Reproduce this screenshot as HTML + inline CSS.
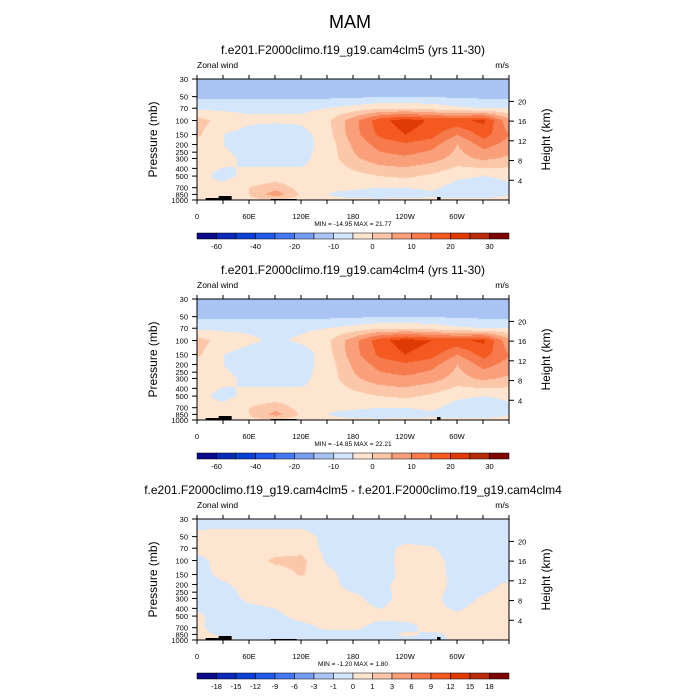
<!DOCTYPE html>
<html><head><meta charset="utf-8"><style>
body{margin:0;background:#fff;width:700px;height:700px;overflow:hidden;position:relative;font-family:"Liberation Sans",sans-serif}
canvas{position:absolute}
svg{position:absolute;left:0;top:0}
</style></head><body>
<canvas id="c0" width="312" height="121" style="left:197px;top:79px"></canvas>
<canvas id="c1" width="312" height="121" style="left:197px;top:299px"></canvas>
<canvas id="c2" width="312" height="121" style="left:197px;top:519px"></canvas>
<svg id="ov" width="700" height="700"></svg>
<script>
const lons=[0,30,60,90,120,150,180,210,240,270,300,330,360];
const pres=[30,50,70,100,150,200,300,500,700,850,1000];
const field1=[
[-13,-13,-13,-13,-13,-13,-13,-13,-13,-13,-13,-13,-13],
[-11,-11,-11,-11,-11,-11,-11,-10,-10,-10,-11,-11,-11],
[-6,-6,-6,-6,-6,-5,-3,-1,-1,-2,-4,-5,-5],
[2,-2,-4,-4,-4,-1,8,18,23,19,19,21,6],
[1,-5,-7,-9,-7,-2,8,16,20,17,10,17,10],
[-2,-5,-7,-8,-7,-3,6,12,14,12,5,12,8],
[-4,-4,-6,-7,-6,-3,4,8,9,7,3,6,4],
[-4,-6,-4,-3,-4,-4,-2,0,1,-1,-4,-5,-4],
[-4,-4,0,3,-2,-4,-4,-5,-5,-4,-7,-8,-6],
[-4,-3,0,8,-1,-5,-7,-8,-7,-6,-7,-7,-5],
[-4,-3,-1,-1,-2,-4,-4,-4,-4,-4,-4,-4,-4]];
const field2=[
[-13,-13,-13,-13,-13,-13,-13,-13,-13,-13,-13,-13,-13],
[-11,-11,-11,-11,-11,-11,-11,-10,-10,-10,-11,-11,-11],
[-6,-6,-6,-6,-6,-5,-3,-1,-1,-2,-4,-5,-5],
[2,-2,-4,-6,-4,-1,8,18,23,20,19,21,6],
[1,-5,-7,-9,-8,-2,8,16,20,17,10,17,10],
[-2,-5,-7,-8,-7,-3,6,12,14,12,5,12,8],
[-4,-4,-6,-7,-6,-3,4,8,9,7,3,6,4],
[-4,-6,-4,-3,-4,-4,-2,0,1,-1,-4,-5,-4],
[-4,-4,0,3,-2,-4,-4,-5,-5,-4,-7,-8,-6],
[-4,-3,0,7,-1,-5,-7,-8,-7,-6,-7,-7,-5],
[-4,-3,-1,-1,-2,-4,-4,-4,-4,-4,-4,-4,-4]];
const field3=[
[-0.5,-0.5,-0.5,-0.5,-0.5,-0.5,-0.5,-0.5,-0.5,-0.5,-0.5,-0.5,-0.5],
[0.3,0.4,0.4,0.4,0.4,-0.3,-0.5,-0.5,-0.5,-0.5,-0.5,-0.5,-0.5],
[0.3,0.5,0.5,0.5,0.6,-0.3,-0.5,-0.5,0.3,0.1,-0.5,-0.5,-0.5],
[-0.3,0.4,0.5,1.2,1.3,-0.2,-0.5,-0.5,0.4,0.4,-0.4,-0.5,-0.5],
[-0.3,0.2,0.4,0.5,1.1,0.3,-0.5,-0.5,0.3,0.4,-0.3,-0.5,-0.5],
[-0.4,-0.1,0.3,0.3,0.5,0.3,-0.3,-0.2,0.3,0.3,-0.2,-0.3,0.2],
[-0.5,-0.4,0.2,0.3,0.4,0.3,0.2,-0.3,0.3,0.2,-0.3,0.1,0.3],
[0.2,-0.5,-0.5,-0.2,0.3,0.3,0.3,0.2,0.3,0.1,0.1,0.3,0.4],
[0.2,-0.5,-0.5,-0.5,-0.3,0.2,0.2,-0.3,-0.3,0.3,0.3,0.3,0.3],
[0.3,-0.2,-0.5,-0.5,-0.5,-0.4,-0.3,-0.5,0.2,-0.2,0.2,0.3,0.3],
[0.3,0.3,-0.2,-0.4,-0.4,-0.3,-0.3,-0.3,-0.3,-0.3,0.2,0.3,0.3]];
const levelsMain=[-60,-50,-40,-30,-20,-15,-10,-5,0,5,10,15,20,25,30];
const labelsMain=["-60","","-40","","-20","","-10","","0","","10","","20","","30"];
const levelsDiff=[-18,-15,-12,-9,-6,-3,-1,0,1,3,6,9,12,15,18];
const labelsDiff=["-18","-15","-12","-9","-6","-3","-1","0","1","3","6","9","12","15","18"];
const colors=["#0a0a8a","#0829b5","#0c40d4","#2059ea","#4578ee","#769cf0","#a9c4f4","#d4e6fb","#fde5cf","#fcc7a8","#f9a07a","#f67a4c","#f45a20","#e03a04","#b72a08","#7f0505"];
const titles=["f.e201.F2000climo.f19_g19.cam4clm5 (yrs 11-30)","f.e201.F2000climo.f19_g19.cam4clm4 (yrs 11-30)","f.e201.F2000climo.f19_g19.cam4clm5 - f.e201.F2000climo.f19_g19.cam4clm4"];
const minmax=["MIN = -14.95  MAX =  21.77","MIN = -14.85  MAX =  22.21","MIN = -1.20  MAX =  1.80"];
const pTicks=[30,50,70,100,150,200,250,300,400,500,700,850,1000];
const kmTicks=[4,8,12,16,20];
const lonTicks=[0,60,120,180,240,300];
const lonLabels=["0","60E","120E","180","120W","60W"];

const X0=197,W=312,PH=121,tops=[79,299,519];
const lp=p=>Math.log(p/30)/Math.log(1000/30)*PH;
const xl=l=>l/360*W;
function hex(c){return [parseInt(c.slice(1,3),16),parseInt(c.slice(3,5),16),parseInt(c.slice(5,7),16)];}
const rgb=colors.map(hex);
const lyv=pres.map(lp);
function valAt(f,lon,y){
  let fx=lon/30,ix=Math.min(11,Math.floor(fx)),tx=fx-ix;
  let j=0;
  while(j<9&&lyv[j+1]<y)j++;
  let ty=(y-lyv[j])/(lyv[j+1]-lyv[j]);ty=Math.max(0,Math.min(1,ty));
  const a=f[j][ix]*(1-tx)+f[j][ix+1]*tx,b=f[j+1][ix]*(1-tx)+f[j+1][ix+1]*tx;
  return a*(1-ty)+b*ty;
}
function cls(v,lv){let k=0;while(k<lv.length&&v>=lv[k])k++;return k;}
[[field1,levelsMain],[field2,levelsMain],[field3,levelsDiff]].forEach(([f,lv],i)=>{
  const cv=document.getElementById('c'+i),ctx=cv.getContext('2d');
  const im=ctx.createImageData(W,PH);
  for(let y=0;y<PH;y++)for(let x=0;x<W;x++){
    const c=rgb[cls(valAt(f,x/W*360,y+0.5),lv)],o=(y*W+x)*4;
    im.data[o]=c[0];im.data[o+1]=c[1];im.data[o+2]=c[2];im.data[o+3]=255;
  }
  ctx.putImageData(im,0,0);
});
const NS="http://www.w3.org/2000/svg",ov=document.getElementById('ov');
function mk(t,a,txt){const e=document.createElementNS(NS,t);for(const k in a)e.setAttribute(k,a[k]);if(txt!==undefined)e.textContent=txt;ov.appendChild(e);return e;}
let e=mk('text',{x:350,y:28,'font-size':18,'text-anchor':'middle'},'MAM');


tops.forEach((T,i)=>{
  const lv=i<2?labelsMain:labelsDiff;
  e=mk('text',{x:353,y:T-25,'font-size':12,'text-anchor':'middle'},titles[i]);
  
  
  e=mk('text',{x:197,y:T-11,'font-size':8.5},'Zonal wind');
  
  
  e=mk('text',{x:509,y:T-11,'font-size':8.5,'text-anchor':'end'},'m/s');
  
  
  e=mk('rect',{x:X0+xl(10),y:T+PH-2,width:xl(25),height:2,fill:'#000'});
  
  
  mk('rect',{x:X0+xl(25),y:T+PH-4,width:xl(15),height:4,fill:'#000'});
  mk('rect',{x:X0+xl(277),y:T+PH-3,width:xl(4),height:3,fill:'#000'});
  mk('rect',{x:X0+xl(85),y:T+PH-1,width:xl(30),height:1,fill:'#000'});
  e=mk('rect',{x:X0,y:T,width:W,height:PH,fill:'none',stroke:'#000','stroke-width':1});
  
  
  pTicks.forEach(p=>{const y=T+lp(p);mk('line',{x1:X0-5,x2:X0,y1:y,y2:y,stroke:'#000'});
    e=mk('text',{x:X0-9,y:y+3,'font-size':7.5,'text-anchor':'end'},String(p));
    
    });
  kmTicks.forEach(k=>{const p=1000*Math.exp(-k/7),y=T+lp(p);mk('line',{x1:X0+W,x2:X0+W+5,y1:y,y2:y,stroke:'#000'});
    e=mk('text',{x:X0+W+9,y:y+3,'font-size':7.5},String(k));
    
    });
  for(let l=0;l<=360;l+=30){const x=X0+xl(l);mk('line',{x1:x,x2:x,y1:T+PH,y2:T+PH+4,stroke:'#000'});mk('line',{x1:x,x2:x,y1:T,y2:T-4,stroke:'#000'});}
  lonTicks.forEach((l,k)=>{e=mk('text',{x:X0+xl(l),y:T+PH+19,'font-size':7.5,'text-anchor':'middle'},lonLabels[k]);
    
    });
  e=mk('text',{x:0,y:0,'font-size':12,'text-anchor':'middle',transform:`translate(157,${T+PH/2}) rotate(-90)`},'Pressure (mb)');
  
  
  e=mk('text',{x:0,y:0,'font-size':12,'text-anchor':'middle',transform:`translate(550,${T+PH/2}) rotate(-90)`},'Height (km)');
  
  
  e=mk('text',{x:353,y:T+PH+26,'font-size':6.5,'text-anchor':'middle'},minmax[i]);
  
  
  const cy=T+154,bw=W/16;
  colors.forEach((c,k)=>{e=mk('rect',{x:X0+k*bw,y:cy,width:bw,height:6,fill:c,stroke:'#000','stroke-width':0.5});
    
    });
  lv.forEach((s,k)=>{if(!s)return;e=mk('text',{x:X0+(k+1)*bw,y:cy+16,'font-size':7.5,'text-anchor':'middle'},s);
    
    });
});
</script>
</body></html>
